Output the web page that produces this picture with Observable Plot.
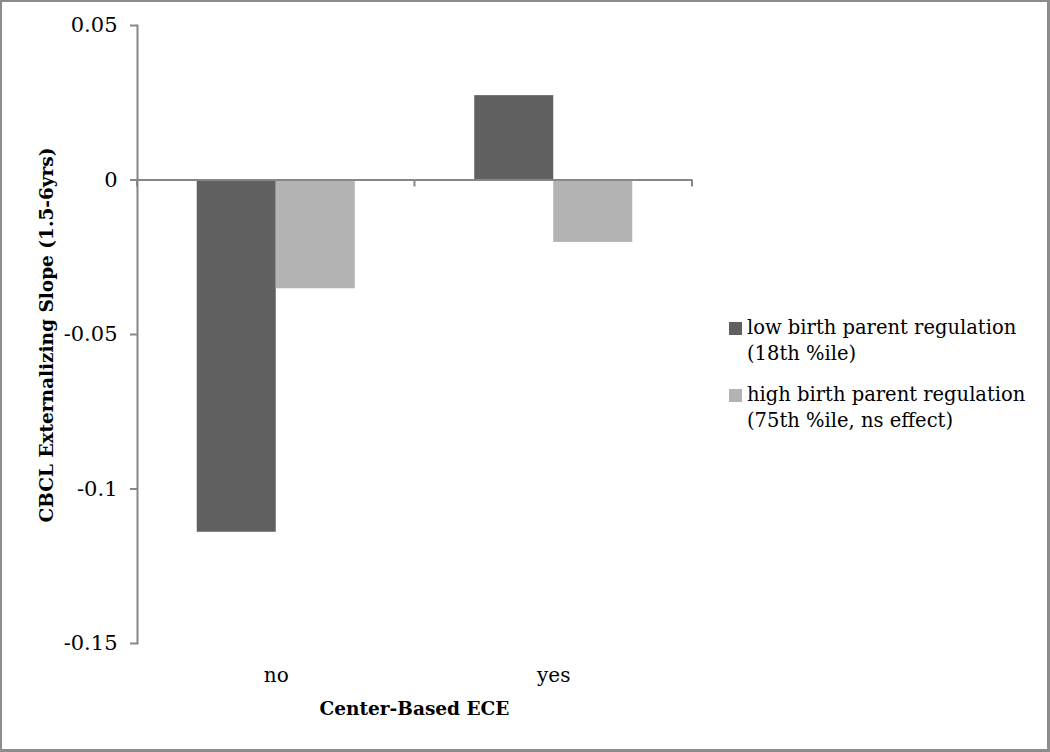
<!DOCTYPE html>
<html><head><meta charset="utf-8">
<script src="https://cdn.jsdelivr.net/npm/d3@7"></script>
<script src="https://cdn.jsdelivr.net/npm/@observablehq/plot@0.6"></script>
<style>
body{margin:0;background:#fff;}
#wrap{position:relative;width:1050px;height:752px;overflow:hidden;font-family:"DejaVu Serif",serif;color:#000;}
#wrap svg{position:absolute;left:0;top:0;}
#border{position:absolute;left:0;top:0;width:1050px;height:752px;box-sizing:border-box;border:2px solid #8c8c8c;border-right-width:3px;border-bottom-width:3px;pointer-events:none;}
.title{position:absolute;font-weight:bold;font-size:18.5px;white-space:nowrap;transform:translate(-50%,-50%);}
#ytitle{transform:translate(-50%,-50%) rotate(-90deg);}
#legend{position:absolute;left:729px;top:315px;font-size:19.5px;line-height:26px;}
.item{display:flex;align-items:flex-start;margin-bottom:15px;}
.sw{width:13px;height:13px;margin-top:7px;margin-right:5px;flex:none;}
</style></head>
<body>
<div id="wrap"></div>
<script>
const categories = ["no", "yes"];
const seriesKeys = ["low", "high"];
const legendLines = [["low birth parent regulation", "(18th %ile)"], ["high birth parent regulation", "(75th %ile, ns effect)"]];
const lowValues = [-0.1140, 0.0273];
const highValues = [-0.0352, -0.0202];
const colors = ["#606060", "#b3b3b3"];
const yTicks = [-0.15, -0.1, -0.05, 0, 0.05];
const yTitle = "CBCL Externalizing Slope (1.5-6yrs)";
const xTitle = "Center-Based ECE";

const data = categories.flatMap((c, i) => [
  {cat: c, series: "low", value: lowValues[i]},
  {cat: c, series: "high", value: highValues[i]}
]);

const axisGray = "#868686";
const plot = Plot.plot({
  width: 1050, height: 752,
  marginLeft: 137, marginRight: 358, marginTop: 25, marginBottom: 109,
  style: {fontFamily: "DejaVu Serif", fontSize: "20px", color: "#000", background: "transparent"},
  fx: {domain: categories, padding: 0, round: false, label: null},
  x: {domain: seriesKeys, paddingInner: 0, paddingOuter: 0.756, round: false, axis: null},
  y: {domain: [-0.15, 0.05], label: null},
  color: {domain: seriesKeys, range: colors},
  marks: [
    Plot.barY(data, {fx: "cat", x: "series", y: "value", fill: "series"}),
    Plot.ruleY([0], {stroke: axisGray, strokeWidth: 2}),
    Plot.frame({anchor: "left", stroke: axisGray, strokeWidth: 2, facetAnchor: "left"}),
    Plot.axisY({ticks: yTicks, tickSize: 7, tickPadding: 13, tickFormat: d => String(d), stroke: axisGray, strokeWidth: 2, fill: "#000", fontSize: 21, label: null}),
    Plot.axisFx({anchor: "bottom", tickSize: 0, tickPadding: 24, label: null, fontSize: 20, fill: "#000"})
  ]
});

const wrap = document.getElementById("wrap");
wrap.appendChild(plot);

// category-boundary ticks on the zero line, placed via the plot's own scales
const fx = plot.scale("fx"), ys = plot.scale("y");
const y0 = ys.apply(0);
const edges = new Set();
categories.forEach(c => { const a = fx.apply(c); edges.add(a); edges.add(a + fx.bandwidth); });
const g = d3.select(plot).append("g").attr("stroke", axisGray).attr("stroke-width", 2);
for (const e of edges) g.append("line").attr("x1", e).attr("x2", e).attr("y1", y0).attr("y2", y0 + 7);

// titles
const yt = document.createElement("div");
yt.className = "title"; yt.id = "ytitle"; yt.textContent = yTitle;
yt.style.left = "46px"; yt.style.top = ((ys.apply(0.05) + ys.apply(-0.15)) / 2 + 1) + "px";
wrap.appendChild(yt);
const xt = document.createElement("div");
xt.className = "title"; xt.textContent = xTitle;
xt.style.left = ((fx.apply(categories[0]) + fx.apply(categories[categories.length - 1]) + fx.bandwidth) / 2) + "px";
xt.style.top = "708px";
wrap.appendChild(xt);

// legend
const lg = document.createElement("div");
lg.id = "legend";
legendLines.forEach((lines, i) => {
  const it = document.createElement("div"); it.className = "item";
  const sw = document.createElement("div"); sw.className = "sw"; sw.style.background = colors[i];
  const tx = document.createElement("div"); tx.innerHTML = lines.map(l => l.replace(/&/g, "&amp;").replace(/</g, "&lt;")).join("<br>");
  it.appendChild(sw); it.appendChild(tx); lg.appendChild(it);
});
wrap.appendChild(lg);

const bd = document.createElement("div"); bd.id = "border"; wrap.appendChild(bd);
</script>
</body></html>
